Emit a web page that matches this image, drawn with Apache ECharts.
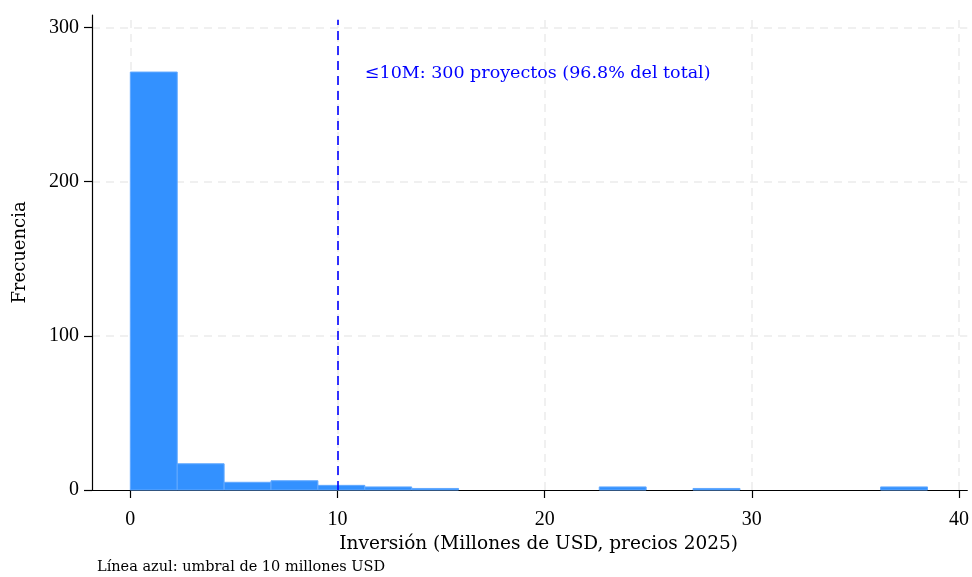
<!DOCTYPE html>
<html><head><meta charset="utf-8">
<script src="https://cdn.jsdelivr.net/npm/echarts@6/dist/echarts.min.js"></script>
<style>html,body{margin:0;padding:0;background:#fff}#c{width:972px;height:577px}</style>
</head><body><div id="c"></div>
<script>
// Histogram data
const binStart = 0;
const binWidth = 2.2635;
const counts = [271, 17, 5, 6, 3, 2, 1, 0, 0, 0, 2, 0, 1, 0, 0, 0, 2];
const xTicks = [0, 10, 20, 30, 40];
const yTicks = [0, 100, 200, 300];
const threshold = 10;
const annotationText = '≤10M: 300 proyectos (96.8% del total)';
const xTitle = 'Inversión (Millones de USD, precios 2025)';
const yTitle = 'Frecuencia';
const footer = 'Línea azul: umbral de 10 millones USD';

const FONT = 'Liberation Serif';
const FONT2 = 'DejaVu Serif';
const bins = counts.map((c, i) => [binStart + i * binWidth, binStart + (i + 1) * binWidth, c]);

const chart = echarts.init(document.getElementById('c'));
const gridStyle = {color: '#ebebeb', type: [8, 6], width: 1.5};
chart.setOption({
  animation: false,
  grid: {left: 92, right: 0, top: 15, bottom: 87, containLabel: false},
  xAxis: {
    type: 'value', min: -1.85, max: 40.4,
    axisLine: {show: true, onZero: false, lineStyle: {color: '#000', width: 1.2}},
    axisTick: {show: true, length: 8, customValues: xTicks, lineStyle: {color: '#000', width: 1.2}},
    axisLabel: {customValues: xTicks, color: '#000', fontFamily: FONT, fontSize: 20, margin: 20},
    splitLine: {show: false},
    name: xTitle, nameLocation: 'middle', nameGap: 43,
    nameTextStyle: {color: '#000', fontFamily: FONT2, fontSize: 18.5, padding: [0, 0, 0, 18]}
  },
  yAxis: {
    type: 'value', min: 0, max: 308,
    axisLine: {show: true, onZero: false, lineStyle: {color: '#000', width: 1.2}},
    axisTick: {show: true, length: 8, customValues: yTicks, lineStyle: {color: '#000', width: 1.2}},
    axisLabel: {customValues: yTicks, color: '#000', fontFamily: FONT, fontSize: 20, margin: 13},
    splitLine: {show: false},
    name: yTitle, nameLocation: 'middle', nameGap: 63, nameRotate: 90,
    nameTextStyle: {color: '#000', fontFamily: FONT2, fontSize: 18}
  },
  graphic: [{
    type: 'text', left: 97, top: 560,
    style: {text: footer, fontFamily: FONT2, fontSize: 14.5, fill: '#000'}
  }],
  series: [
    {
      type: 'line', data: [], silent: true, z: 0,
      markLine: {
        symbol: 'none', silent: true, label: {show: false}, z: 0,
        lineStyle: gridStyle,
        data: xTicks.map(v => ({xAxis: v})).concat(yTicks.filter(v => v > 0).map(v => ({yAxis: v})))
      }
    },
    {
      type: 'custom',
      data: bins,
      encode: {x: [0, 1], y: 2},
      renderItem: function (params, api) {
        if (!(api.value(2) > 0)) return null;
        const p0 = api.coord([api.value(0), api.value(2)]);
        const p1 = api.coord([api.value(1), 0]);
        return {
          type: 'rect',
          shape: {x: p0[0], y: p0[1], width: p1[0] - p0[0], height: p1[1] - p0[1]},
          style: {fill: '#3391ff', stroke: '#62a9ff', lineWidth: 1}
        };
      },
      z: 2
    },
    {
      type: 'line', data: [], silent: true, z: 6,
      markLine: {
        symbol: 'none', silent: true, label: {show: false}, z: 6,
        lineStyle: {color: '#0000ff', type: [9, 6], width: 1.6},
        data: [[{coord: [threshold, 0]}, {coord: [threshold, 305]}]]
      },
      markPoint: {
        symbol: 'circle', symbolSize: 0, silent: true, z: 6,
        data: [{coord: [11.32, 270]}],
        label: {show: true, position: 'right', distance: 0, formatter: annotationText,
          color: '#0000ff', fontFamily: FONT2, fontSize: 17.5}
      }
    }
  ]
});
</script></body></html>
